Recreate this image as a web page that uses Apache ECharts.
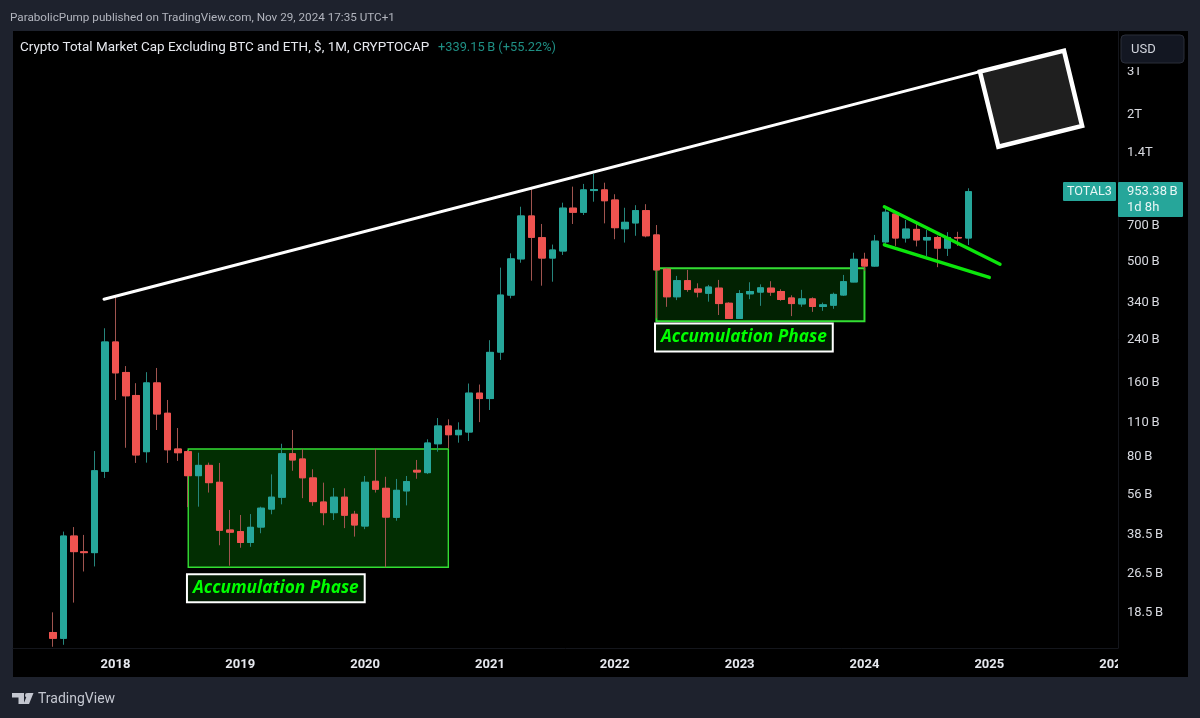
<!DOCTYPE html>
<html>
<head>
<meta charset="utf-8">
<style>html,body{margin:0;padding:0;background:#1e222d}#chart{width:1200px;height:718px}</style>
<script src="https://cdn.jsdelivr.net/npm/echarts@6/dist/echarts.min.js"></script>
</head>
<body>
<div id="chart"></div>
<script>
// monthly candles, index 0 = Jul 2017, values in billions USD
const opens = [
  15.1, 14.3, 37.4, 32.25, 32.0, 68.8,
  232, 174.2, 140.3, 82.7, 157.9, 118.7, 84.8, 82.7, 66.0, 72.7, 62.0, 39.6,
  39.0, 35.2, 40.7, 48.2, 53.9, 81.1, 77.2, 64.6, 51.5, 46.6, 53.9, 45.9,
  41.1, 62.6, 58.6, 44.6, 57.2, 69.4, 67.9, 89.1, 105.3, 97.0, 99.5, 143.4,
  136.3, 211, 360.6, 507, 759, 618.7, 511, 546, 817, 786, 964, 970,
  882, 673, 711, 798, 635, 460, 355, 413, 382, 367, 385, 334,
  289.6, 365, 371, 385, 373, 351, 332, 348, 324, 328, 361, 408,
  505, 474, 595, 773, 617, 669, 606, 620, 561, 620, 617
];
const closes = [
  14.3, 37.4, 32.3, 32.0, 69.1, 232,
  173.6, 139.9, 80.2, 157.9, 117.9, 84.2, 81.9, 66.0, 72.7, 61.8, 39.5, 38.8,
  35.2, 40.6, 48.6, 53.9, 81.1, 76.5, 64.7, 51.7, 46.6, 53.9, 45.5, 41.5,
  62.0, 58.1, 44.7, 57.5, 62.4, 68.3, 89.7, 105.3, 97.0, 101.1, 143.4, 136.3,
  210.4, 360.6, 507, 759, 621, 511, 551, 817, 786, 970, 973, 876,
  680, 715, 798, 630, 457, 355, 413, 380, 371, 389, 333, 289.6,
  366, 373, 386, 371, 346, 333, 348, 324, 329, 363, 409, 505,
  474, 599, 786, 617, 671, 606, 620, 561, 620, 617, 953.38
];
const lows = [
  13.2, 13.45, 20.0, 26.8, 28.1, 64.6,
  134.5, 85.8, 74.4, 74.6, 101.4, 74.4, 75.8, 49.1, 49.3, 56.3, 34.3, 28.3,
  33.5, 33.8, 38.4, 45.9, 50.4, 69.1, 53.4, 49.7, 41.4, 43.5, 40.3, 37.2,
  39.9, 56.3, 27.9, 43.2, 49.9, 64.1, 67.0, 82.7, 85.4, 90.0, 91.4, 109.2,
  122.4, 196, 349.7, 489, 413, 394, 409, 526, 704, 766, 868, 708,
  610, 591, 630, 621, 290, 323, 344, 372, 353, 339, 299, 288,
  288.7, 347, 326, 358, 342, 296, 323, 308, 311, 317, 358, 407,
  453, 471, 584, 573, 591, 570, 521, 469, 521, 573, 578
];
const highs = [
  18.25, 39.0, 40.7, 37.8, 83.2, 264,
  357, 185, 157.5, 174.7, 181.7, 134.5, 103.3, 84, 81.9, 74.6, 74.4, 47.8,
  45.6, 46.0, 49.3, 66.8, 89.1, 101.4, 84.8, 70.1, 61.8, 58.8, 58.6, 47.4,
  65.8, 85.0, 65.3, 64.0, 65.8, 76.5, 92.9, 113.5, 112.1, 109, 157, 155.5,
  236, 466.9, 534, 828, 985, 704, 580, 860, 1000, 1026, 1127, 1038,
  931, 820, 840, 848, 697, 466, 432, 457, 403, 397, 416, 337,
  378, 407, 399, 411, 381, 360, 379, 353, 336, 369, 436, 537,
  537, 635, 811, 790, 731, 709, 665, 630, 652, 654, 985
];

const yearTicks = [6, 18, 30, 42, 54, 66, 78, 90, 102];
const yearLabels = ['2018', '2019', '2020', '2021', '2022', '2023', '2024', '2025', '2026'];
const priceTicks = [3000, 2000, 1400, 1000, 700, 500, 340, 240, 160, 110, 80, 56, 38.5, 26.5, 18.5];
const priceLabels = ['3T', '2T', '1.4T', '1T', '700\u2009B', '500\u2009B', '340\u2009B', '240\u2009B', '160\u2009B', '110\u2009B', '80\u2009B', '56\u2009B', '38.5\u2009B', '26.5\u2009B', '18.5\u2009B'];

// drawings on the chart, [month index, price]
const resistanceLine = [[4.9, 347], [89.1, 2949]];
const wedgeUpper = [[79.91, 828], [91.03, 482]];
const wedgeLower = [[79.91, 579], [90.0, 426]];
const targetBox = [[89.1, 2949], [97.18, 3594], [98.92, 1770], [90.87, 1456]];
const phaseBoxes = [[[13, 84.8], [38, 27.9]], [[58, 464], [78, 282]]];
const phaseLabels = [[21.42, 22.9], [66.41, 242]];

const UP = '#26a69a';
const DOWN = '#ef5350';
const TEXT_FONT = 'Roboto';

let myChart = echarts.init(document.getElementById('chart'));

function candleRow(i, withWick) {
  const lo = withWick ? lows[i] : Math.min(opens[i], closes[i]);
  const hi = withWick ? highs[i] : Math.max(opens[i], closes[i]);
  return [i, opens[i], closes[i], lo, hi];
}

function drawingLine(points, color, width) {
  return {
    type: 'line',
    data: points,
    symbol: 'none',
    silent: true,
    z: 6,
    lineStyle: { color: color, width: width, cap: 'round' }
  };
}

let option = {
  animation: false,
  backgroundColor: '#1e222d',
  title: [
    { text: 'ParabolicPump published on TradingView.com, Nov 29, 2024 17:35 UTC+1', left: 10, top: 12, padding: 0,
      textStyle: { color: '#b2b5be', fontSize: 11.7, fontWeight: 'normal', fontFamily: TEXT_FONT } },
    { text: 'Crypto Total Market Cap Excluding BTC and ETH, $, 1M, CRYPTOCAP', left: 20, top: 41, padding: 0,
      textStyle: { color: '#e6e8ee', fontSize: 13.45, fontWeight: 'normal', fontFamily: TEXT_FONT } },
    { text: '+339.15\u2009B (+55.22%)', left: 438, top: 41, padding: 0,
      textStyle: { color: '#1f8f84', fontSize: 12.8, fontWeight: 'normal', fontFamily: TEXT_FONT } }
  ],
  grid: { left: 13, top: 31, width: 1105, height: 617, show: false },
  xAxis: {
    type: 'value',
    min: -3.845,
    max: 102.37,
    z: 1,
    splitLine: { show: false },
    axisLine: { show: true, onZero: false, lineStyle: { color: '#14161c' } },
    axisTick: { show: false },
    axisLabel: {
      customValues: yearTicks,
      color: '#e6e8ee',
      fontSize: 13,
      fontWeight: 'bold',
      fontFamily: TEXT_FONT,
      margin: 10,
      hideOverlap: false,
      formatter: function (v) { return yearLabels[yearTicks.indexOf(v)]; }
    }
  },
  yAxis: {
    type: 'log',
    logBase: 10,
    position: 'right',
    min: 13.05,
    max: 4323,
    z: 4,
    splitLine: { show: false },
    minorSplitLine: { show: false },
    axisLine: { show: true, onZero: false, lineStyle: { color: '#14161c' } },
    axisTick: { show: false },
    axisLabel: {
      customValues: priceTicks,
      margin: 9,
      align: 'left',
      rich: { p: { color: '#d8dae0', fontSize: 13, fontFamily: TEXT_FONT, padding: [3, 0, 0, 0] } },
      formatter: function (v) { return '{p|' + priceLabels[priceTicks.indexOf(v)] + '}'; }
    }
  },
  series: [
    {
      type: 'candlestick',
      name: 'wicks',
      silent: true,
      barWidth: 7,
      z: 3,
      data: opens.map(function (o, i) { return candleRow(i, true); }),
      itemStyle: { color: UP, color0: DOWN, borderColor: '#26857c', borderColor0: '#a0544f', borderWidth: 1 },
      markArea: {
        silent: true,
        z: 1,
        data: phaseBoxes.map(function (b, i) {
          return [
            { coord: b[0], itemStyle: { color: i === 0 ? '#022e02' : '#022202', borderColor: '#33dd33', borderWidth: i === 0 ? 1.4 : 2 } },
            { coord: b[1] }
          ];
        })
      }
    },
    {
      type: 'candlestick',
      name: 'bodies',
      silent: true,
      barWidth: 7,
      z: 4,
      data: opens.map(function (o, i) { return candleRow(i, false); }),
      itemStyle: { color: UP, color0: DOWN, borderColor: UP, borderColor0: DOWN, borderWidth: 1 }
    },
    drawingLine(resistanceLine, '#ffffff', 3),
    drawingLine(wedgeUpper, '#0ce60c', 3.4),
    drawingLine(wedgeLower, '#0ce60c', 3.4),
    {
      type: 'custom',
      silent: true,
      z: 6,
      data: targetBox,
      renderItem: function (params, api) {
        if (params.dataIndex !== 0) return null;
        return {
          type: 'polygon',
          shape: { points: targetBox.map(function (p) { return api.coord(p); }) },
          style: { fill: '#1f1f1f', stroke: '#ffffff', lineWidth: 4.5, lineJoin: 'miter' }
        };
      }
    },
    {
      type: 'scatter',
      silent: true,
      symbolSize: 1,
      z: 7,
      data: phaseLabels,
      itemStyle: { color: 'transparent', opacity: 1 },
      label: {
        show: true,
        position: 'inside',
        formatter: 'Accumulation Phase',
        color: '#00ff00',
        opacity: 1,
        textBorderWidth: 0,
        textBorderColor: 'transparent',
        fontFamily: 'Open Sans',
        fontWeight: 'bold',
        fontStyle: 'italic',
        fontSize: 17.3,
        lineHeight: 22,
        backgroundColor: '#021a02',
        borderColor: '#ffffff',
        borderWidth: 2,
        padding: [2, 5, 2, 5]
      }
    }
  ],
  graphic: [
    // chart panel, behind everything
    { type: 'rect', z: -10, shape: { x: 13, y: 31, width: 1175, height: 646 }, style: { fill: '#000000' } },
    // price scale strip, covers the cut off 2026 label
    { type: 'rect', z: 2, shape: { x: 1118, y: 650, width: 70, height: 27 }, style: { fill: '#000000' } },
    // USD button, its margin cuts the top of the 3T label
    { type: 'rect', z: 19, shape: { x: 1121, y: 60, width: 63, height: 7 }, style: { fill: '#000000' } },
    { type: 'rect', z: 20, shape: { x: 1121, y: 35, width: 63, height: 28, r: 4 }, style: { fill: '#131722', stroke: '#2a2e39', lineWidth: 1 } },
    { type: 'text', z: 21, style: { x: 1131, y: 43, text: 'USD', fill: '#d1d4dc', fontSize: 13, fontFamily: TEXT_FONT } },
    // last price tags
    { type: 'rect', z: 20, shape: { x: 1063, y: 182, width: 53, height: 19, r: 1 }, style: { fill: UP } },
    { type: 'text', z: 21, style: { x: 1067, y: 185, text: 'TOTAL3', fill: '#e8f6f5', fontSize: 12.6, fontFamily: TEXT_FONT } },
    { type: 'rect', z: 20, shape: { x: 1118, y: 182, width: 65, height: 35, r: 1 }, style: { fill: UP } },
    { type: 'text', z: 21, style: { x: 1127, y: 185, text: '953.38\u2009B', fill: '#e8f6f5', fontSize: 13, fontFamily: TEXT_FONT } },
    { type: 'text', z: 21, style: { x: 1127, y: 201, text: '1d 8h', fill: '#e8f6f5', fontSize: 13, fontFamily: TEXT_FONT } },
    // logo
    { type: 'polygon', z: 20, shape: { points: [[12, 693], [24, 693], [24, 704], [18.5, 704], [18.5, 697.5], [12, 697.5]] }, style: { fill: '#c4c7d0' } },
    { type: 'circle', z: 20, shape: { cx: 27.2, cy: 695.2, r: 2.2 }, style: { fill: '#c4c7d0' } },
    { type: 'polygon', z: 20, shape: { points: [[28, 693], [33.5, 693], [29, 704], [23.5, 704]] }, style: { fill: '#c4c7d0' } },
    { type: 'text', z: 20, style: { x: 38, y: 692, text: 'TradingView', fill: '#c4c7d0', fontSize: 14, fontFamily: TEXT_FONT } }
  ]
};
myChart.setOption(option);
</script>
</body>
</html>
